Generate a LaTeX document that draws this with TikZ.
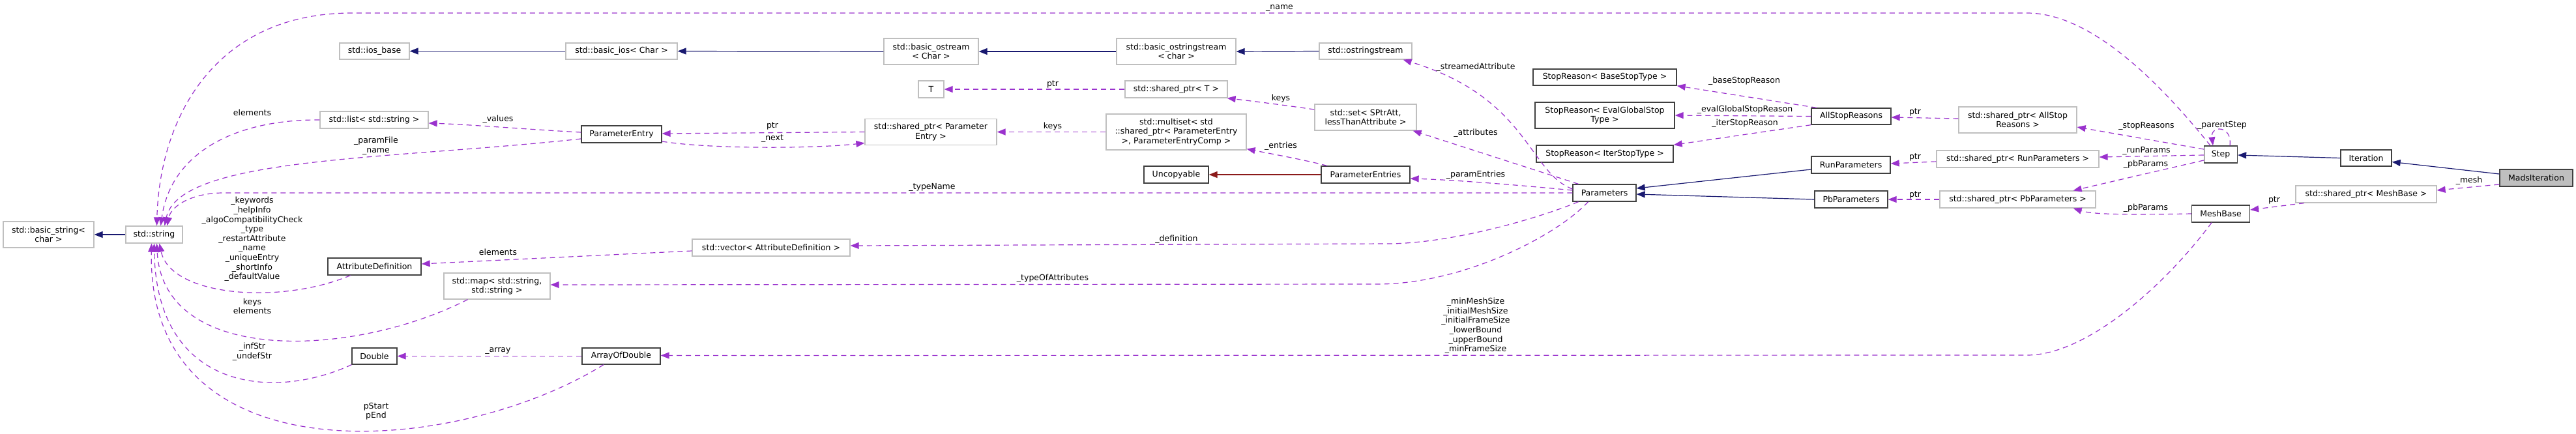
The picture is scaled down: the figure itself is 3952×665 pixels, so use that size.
\documentclass[tikz,border=0pt]{standalone}
\usepackage{fontspec}
\setmainfont{DejaVu Sans}
\usetikzlibrary{arrows.meta}
\definecolor{inhblue}{HTML}{191970}
\definecolor{inhred}{HTML}{8B1A1A}
\definecolor{usepurple}{HTML}{9A32CD}
\definecolor{boxgray}{HTML}{BFBFBF}
\definecolor{boxdark}{HTML}{404040}
\begin{document}
\begin{tikzpicture}[x=1pt,y=-1pt,
  every node/.style={font=\fontsize{12.5pt}{14.6pt}\selectfont, inner sep=0pt, align=center},
  gbox/.style={draw=boxgray, line width=1.2pt, fill=white, minimum height=26pt},
  bbox/.style={draw=boxdark, line width=1.3pt, fill=white, minimum height=26pt},
  usageedge/.style={draw=usepurple, color=usepurple, line width=1.2pt, dash pattern=on 8pt off 6pt, -{Triangle[length=13pt,width=10pt]}},
  inhedge/.style={draw=inhblue, color=inhblue, line width=1.2pt, -{Triangle[length=13pt,width=10pt]}},
  privedge/.style={draw=inhred, color=inhred, line width=1.2pt, -{Triangle[length=13pt,width=10pt]}}
]
\useasboundingbox (0,0) rectangle (3952,665);

% ---- class boxes ----
\node[gbox, minimum width=139pt, minimum height=40pt] (basicstring) at (74.5,360) {std::basic\_string<\\char >};
\node[gbox, minimum width=87pt] (string) at (236.5,360) {std::string};
\node[gbox, minimum width=107pt, minimum height=25pt] (iosbase) at (574.5,78.5) {std::ios\_base};
\node[gbox, minimum width=166pt] (list) at (574,184) {std::list< std::string >};
\node[bbox, minimum width=143pt] (attrdef) at (574.5,409) {AttributeDefinition};
\node[bbox, minimum width=69pt, minimum height=25pt] (double) at (574.5,546.5) {Double};
\node[gbox, minimum width=163pt, minimum height=40pt] (map) at (762.5,439) {std::map< std::string,\\std::string >};
\node[gbox, minimum width=171pt, minimum height=25pt] (basicios) at (953.5,78.5) {std::basic\_ios< Char >};
\node[bbox, minimum width=123pt] (paramentry) at (953.5,206) {ParameterEntry};
\node[bbox, minimum width=120pt, minimum height=25pt] (arrayofdouble) at (953,546.5) {ArrayOfDouble};
\node[gbox, minimum width=242pt] (vector) at (1183,380) {std::vector< AttributeDefinition >};
\node[gbox, minimum width=145pt, minimum height=40pt] (basicostream) at (1428.5,79) {std::basic\_ostream\\< Char >};
\node[gbox, minimum width=39pt] (T) at (1428.5,137) {T};
\node[gbox, minimum width=202pt, minimum height=40pt] (sptrPE) at (1428,202.5) {std::shared\_ptr< Parameter\\Entry >};
\node[gbox, minimum width=183pt, minimum height=40pt] (basicostringstream) at (1804.5,79) {std::basic\_ostringstream\\< char >};
\node[gbox, minimum width=157pt] (sptrT) at (1804.5,137) {std::shared\_ptr< T >};
\node[gbox, minimum width=215pt, minimum height=55pt] (multiset) at (1804.5,202.5) {std::multiset< std\\::shared\_ptr< ParameterEntry\\>, ParameterEntryComp >};
\node[bbox, minimum width=99pt] (uncopyable) at (1804.5,268) {Uncopyable};
\node[gbox, minimum width=142pt, minimum height=25pt] (ostringstream) at (2095,78.5) {std::ostringstream};
\node[gbox, minimum width=156pt, minimum height=40pt] (set) at (2095,180) {std::set< SPtrAtt,\\lessThanAttribute >};
\node[bbox, minimum width=136pt] (paramentries) at (2095,268) {ParameterEntries};
\node[bbox, minimum width=97pt] (parameters) at (2461.5,296) {Parameters};
\node[bbox, minimum width=220pt, minimum height=25pt] (srbase) at (2462,118.5) {StopReason< BaseStopType >};
\node[bbox, minimum width=214pt, minimum height=40pt] (sreval) at (2462,177) {StopReason< EvalGlobalStop\\Type >};
\node[bbox, minimum width=210pt] (sriter) at (2462,236) {StopReason< IterStopType >};
\node[bbox, minimum width=122pt, minimum height=25pt] (allstop) at (2840,178.5) {AllStopReasons};
\node[bbox, minimum width=121pt] (runparams) at (2839.5,253) {RunParameters};
\node[bbox, minimum width=112pt] (pbparams) at (2840,306) {PbParameters};
\node[gbox, minimum width=181pt, minimum height=40pt] (sptrAll) at (3095.5,184) {std::shared\_ptr< AllStop\\Reasons >};
\node[gbox, minimum width=249pt] (sptrRun) at (3095.5,244) {std::shared\_ptr< RunParameters >};
\node[gbox, minimum width=239pt] (sptrPb) at (3095.5,306) {std::shared\_ptr< PbParameters >};
\node[bbox, minimum width=51pt] (step) at (3407,237) {Step};
\node[bbox, minimum width=78pt, minimum height=25pt] (iteration) at (3630,242.5) {Iteration};
\node[gbox, minimum width=216pt] (sptrMesh) at (3630,298) {std::shared\_ptr< MeshBase >};
\node[bbox, minimum width=89pt] (meshbase) at (3407,328) {MeshBase};
\node[bbox, fill=boxgray, minimum width=112pt] (mads) at (3891,273) {MadsIteration};

% ---- inheritance ----
\draw[inhedge] (string.west) -- (basicstring.east);
\draw[inhedge] (basicios.west) -- (iosbase.east);
\draw[inhedge] (basicostream.west) -- (basicios.east);
\draw[inhedge] (basicostringstream.west) -- (basicostream.east);
\draw[inhedge] (ostringstream.west) -- (basicostringstream.east);
\draw[privedge] (paramentries.west) -- (uncopyable.east);
\draw[inhedge] ([yshift=-7pt]runparams.west) -- ([yshift=7pt]parameters.east);
\draw[inhedge] (pbparams.west) -- ([yshift=-2pt]parameters.east);
\draw[inhedge] (iteration.west) -- ([yshift=-1pt]step.east);
\draw[inhedge] ([yshift=6pt]mads.west) -- ([yshift=-6pt]iteration.east);

% ---- usage ----
\draw[usageedge] (list.west) .. controls (360,183) and (262,235) .. ([xshift=10pt]string.north);
\draw[usageedge] ([yshift=3pt]paramentry.west) .. controls (800,198) and (720,191) .. ([yshift=-5pt]list.east);
\draw[usageedge] ([yshift=-7pt]paramentry.west) .. controls (600,245) and (275,240) .. ([xshift=16pt]string.north);
\draw[usageedge] (sptrPE.west) -- ([yshift=1pt]paramentry.east);
\draw[usageedge] ([yshift=-11pt]paramentry.east) .. controls (1090,229) and (1250,228) .. ([yshift=-17pt]sptrPE.west);
\draw[usageedge] (multiset.west) -- (sptrPE.east);
\draw[usageedge] (sptrT.west) -- (T.east);
\draw[usageedge] ([yshift=12pt]set.west) .. controls (1960,160) and (1920,155) .. ([xshift=-1pt]sptrT.south east);
\draw[usageedge] ([xshift=-59pt]paramentries.north) .. controls (2000,245) and (1950,236) .. ([yshift=2pt]multiset.south east);
\draw[usageedge] ([yshift=6pt]parameters.west) .. controls (2345,265) and (2345,150) .. ([xshift=-14pt]ostringstream.south east);
\draw[usageedge] ([xshift=-40pt]parameters.north) -- ([xshift=-6pt]set.south east);
\draw[usageedge] ([yshift=4pt]parameters.west) .. controls (2330,284) and (2230,276) .. ([yshift=-6pt]paramentries.east);
\draw[usageedge] (parameters.west) -- (340,296) .. controls (290,297) and (262,318) .. ([xshift=20pt]string.north);
\draw[usageedge] ([xshift=-40pt]parameters.south) .. controls (2360,335) and (2230,373) .. (2131,374) -- ([yshift=3pt]vector.east);
\draw[usageedge] ([xshift=-25pt]parameters.south) .. controls (2390,360) and (2250,434) .. (2118,436) -- ([yshift=2pt]map.east);
\draw[usageedge] ([yshift=-5pt]vector.west) -- ([yshift=4pt]attrdef.east);
\draw[usageedge] ([xshift=-37pt]attrdef.south) .. controls (430,468) and (262,455) .. ([xshift=8pt]string.south);
\draw[usageedge] ([xshift=-45pt]map.south) .. controls (540,550) and (250,560) .. ([xshift=4pt]string.south);
\draw[usageedge] (double.south west) .. controls (420,615) and (240,600) .. (string.south);
\draw[usageedge] (arrayofdouble.west) -- (double.east);
\draw[usageedge] ([xshift=-27pt]arrayofdouble.south) .. controls (700,700) and (225,740) .. ([xshift=-4pt]string.south);
\draw[usageedge] ([xshift=-14pt]meshbase.south) .. controls (3320,440) and (3200,545) .. (3110,545) -- ([yshift=1pt]arrayofdouble.east);
\draw[usageedge] ([xshift=-16pt]step.north) .. controls (3300,110) and (3200,20) .. (3110,20) -- (540,20) .. controls (330,20) and (245,180) .. ([xshift=4pt]string.north);
\draw[usageedge] ([xshift=14pt]step.north) .. controls (3425,192) and (3391,192) .. ([xshift=-12pt]step.north);
\draw[usageedge] ([yshift=8pt]step.west) -- ([yshift=-11pt]sptrAll.east);
\draw[usageedge] ([yshift=-1pt]step.west) -- ([yshift=3pt]sptrRun.east);
\draw[usageedge] ([yshift=-9pt]step.west) -- ([xshift=-35pt]sptrPb.north east);
\draw[usageedge] (meshbase.west) .. controls (3260,330) and (3210,329) .. ([xshift=-35pt]sptrPb.south east);
\draw[usageedge] ([yshift=2pt]sptrAll.west) -- ([yshift=-1.5pt]allstop.east);
\draw[usageedge] ([yshift=-4pt]sptrRun.west) -- ([yshift=2pt]runparams.east);
\draw[usageedge] (sptrPb.west) -- (pbparams.east);
\draw[usageedge] ([xshift=-53pt]allstop.north) -- (srbase.south east);
\draw[usageedge] (allstop.west) -- (sreval.east);
\draw[usageedge] (allstop.south west) -- (sriter.north east);
\draw[usageedge] ([yshift=-10pt]mads.west) -- ([yshift=6pt]sptrMesh.east);
\draw[usageedge] ([xshift=-95pt]sptrMesh.south) -- ([yshift=6pt]meshbase.east);

% ---- edge labels ----
\node (l1) at (1963,12) {\_name};
\node (l2) at (387,173) {elements};
\node (l3) at (764,183) {\_values};
\node (l4) at (577,223.5) {\_paramFile\\\_name};
\node (l5) at (1185,193) {ptr};
\node (l6) at (1185,213) {\_next};
\node (l7) at (1615,194) {keys};
\node (l8) at (1615,129) {ptr};
\node (l9) at (1965,151) {keys};
\node (l10) at (1965,224) {\_entries};
\node (l11) at (2264,103) {\_streamedAttribute};
\node (l12) at (2264,204) {\_attributes};
\node (l13) at (2264,268) {\_paramEntries};
\node (l14) at (1430,287) {\_typeName};
\node (l15) at (1805,367) {\_definition};
\node (l16) at (1615,427) {\_typeOfAttributes};
\node (l17) at (764,387) {elements};
\node (l18) at (387,367) {\_keywords\\\_helpInfo\\\_algoCompatibilityCheck\\\_type\\\_restartAttribute\\\_name\\\_uniqueEntry\\\_shortInfo\\\_defaultValue};
\node (l19) at (387,470) {keys\\elements};
\node (l20) at (387,539.5) {\_infStr\\\_undefStr};
\node (l21) at (577,631) {pStart\\pEnd};
\node (l22) at (764,538) {\_array};
\node (l23) at (2264,500) {\_minMeshSize\\\_initialMeshSize\\\_initialFrameSize\\\_lowerBound\\\_upperBound\\\_minFrameSize};
\node (l24) at (2676,124) {\_baseStopReason};
\node (l25) at (2677,168) {\_evalGlobalStopReason};
\node (l26) at (2677,189) {\_iterStopReason};
\node (l27) at (2938,172) {ptr};
\node (l28) at (2938,241) {ptr};
\node (l29) at (2938,299) {ptr};
\node (l30) at (3293,193) {\_stopReasons};
\node (l31) at (3293,231) {\_runParams};
\node (l32) at (3292,252) {\_pbParams};
\node (l33) at (3292,319) {\_pbParams};
\node (l34) at (3409,192) {\_parentStep};
\node (l35) at (3788,277) {\_mesh};
\node (l36) at (3489,307) {ptr};
\end{tikzpicture}
\end{document}
